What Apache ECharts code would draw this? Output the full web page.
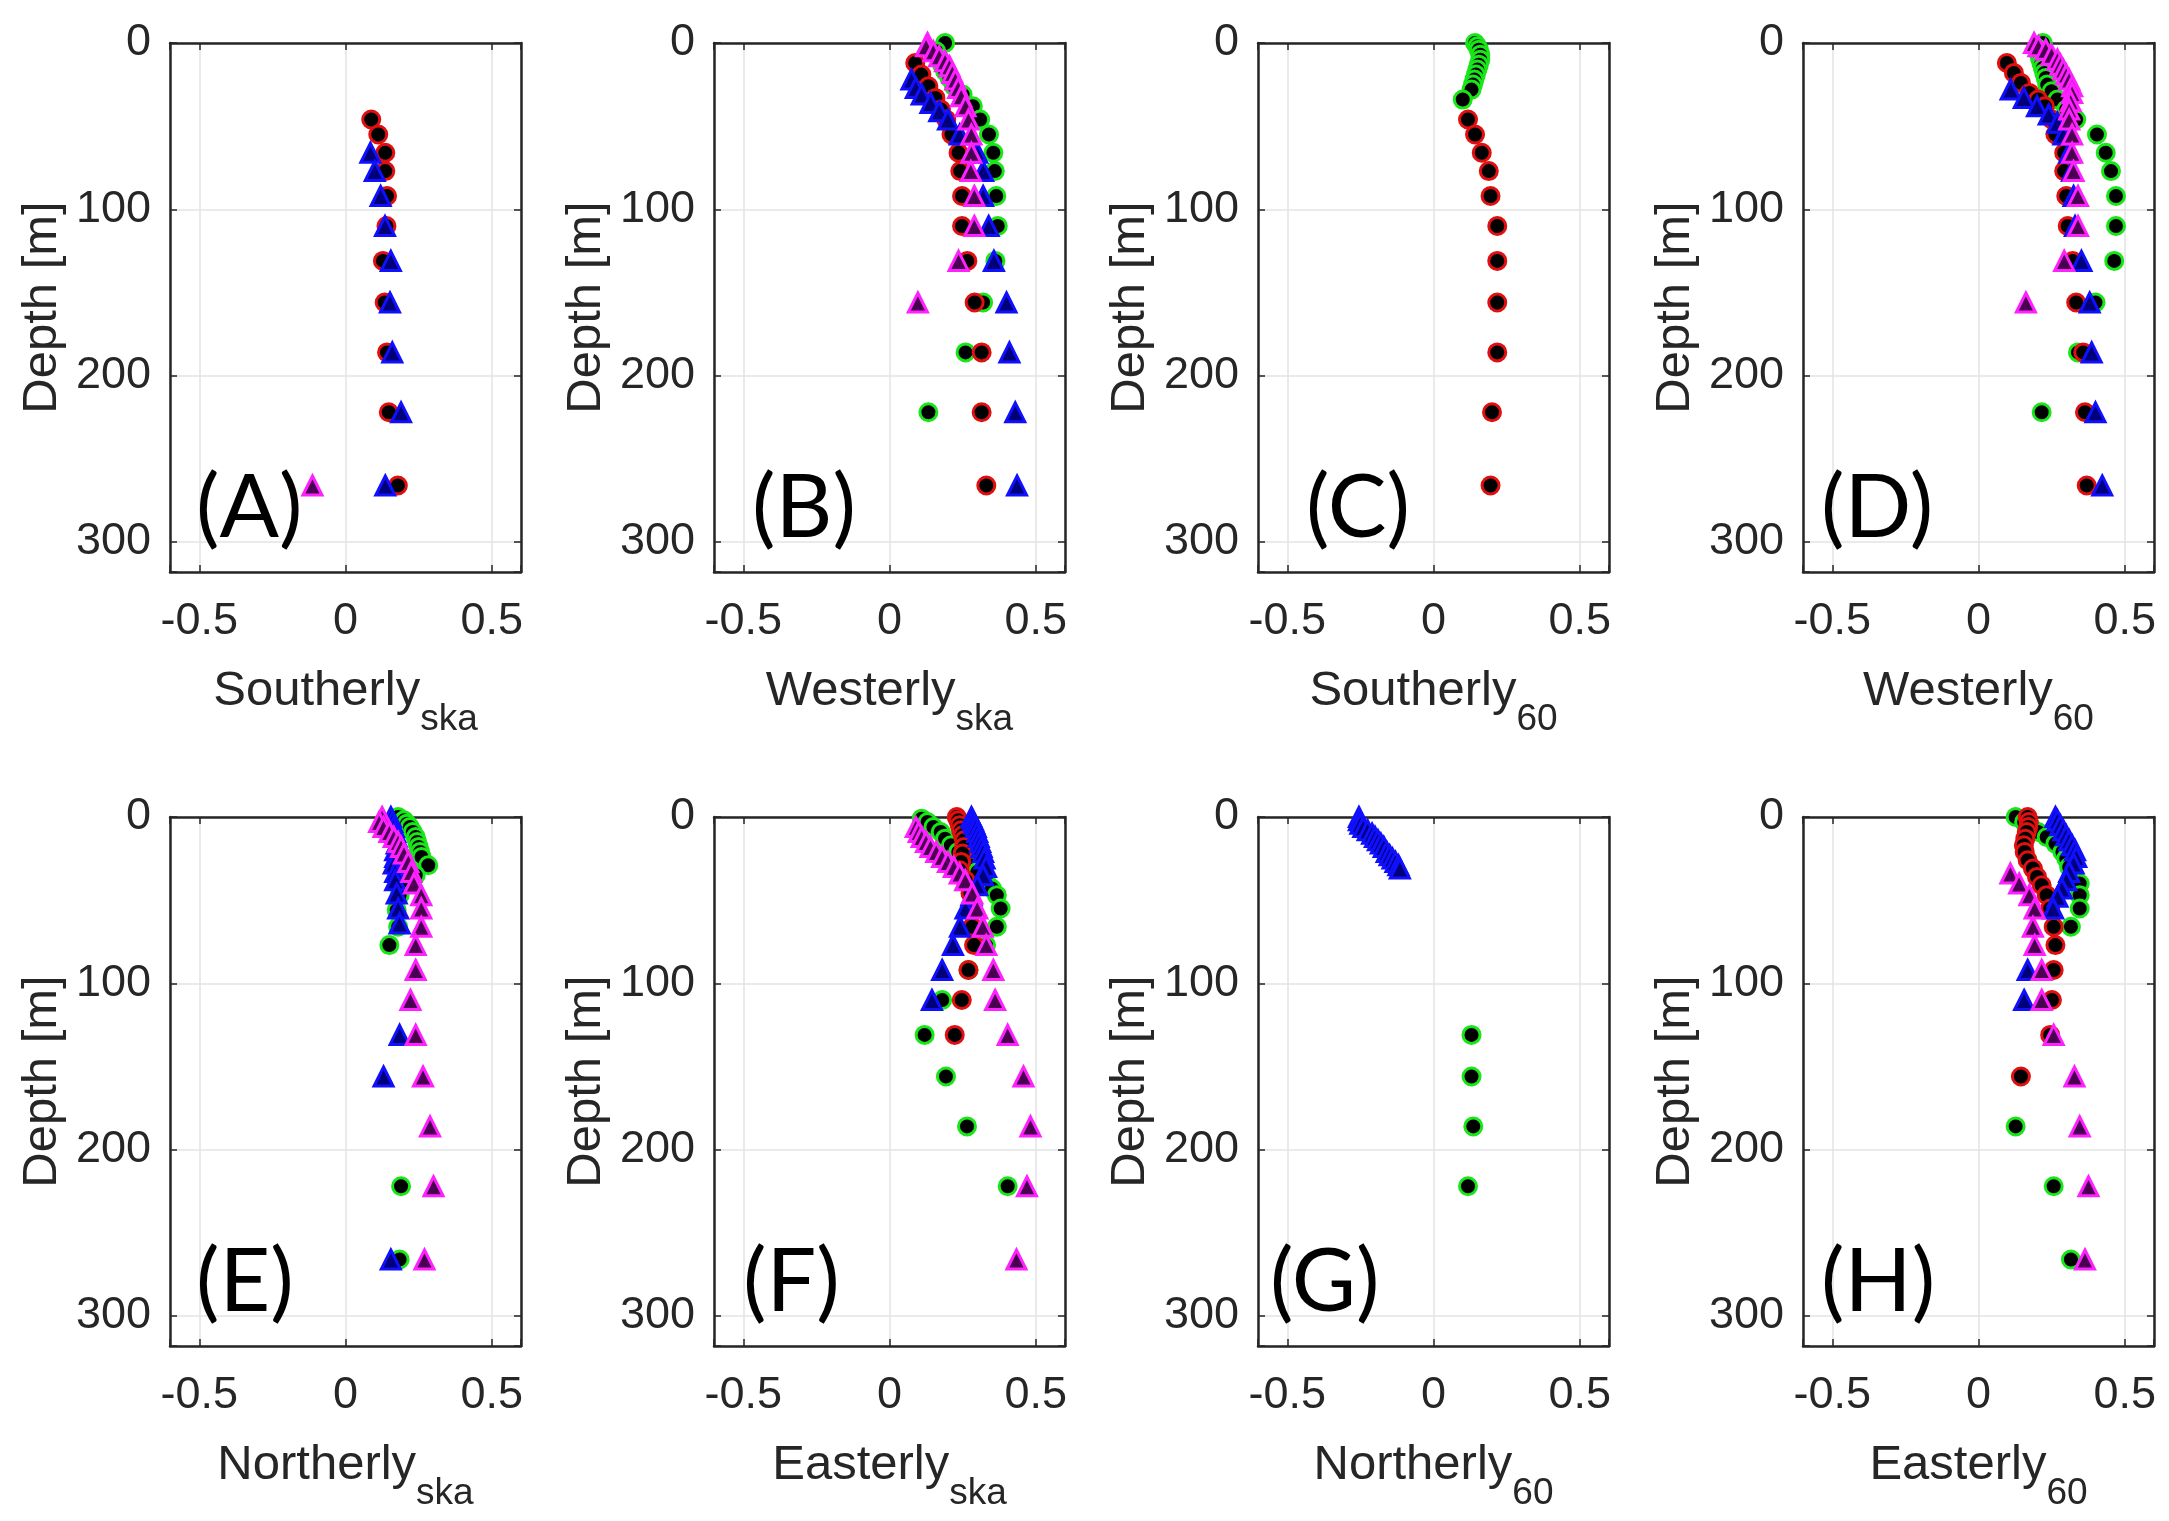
<!DOCTYPE html>
<html><head><meta charset="utf-8">
<script src="https://cdn.jsdelivr.net/npm/echarts@6/dist/echarts.min.js"></script>
<style>html,body{margin:0;padding:0;background:#fff}#c{width:2169px;height:1521px}</style>
</head><body><div id="c"></div>
<script>
// ---------- labels ----------
const panelLetters = ['(A)','(B)','(C)','(D)','(E)','(F)','(G)','(H)'];
const xNameMain = ['Southerly','Westerly','Southerly','Westerly','Northerly','Easterly','Northerly','Easterly'];
const xNameSub  = ['ska','ska','60','60','ska','ska','60','60'];
const yName = 'Depth [m]';
const xTickLabels = [-0.5, 0, 0.5];
const yTickLabels = [0, 100, 200, 300];

// ---------- data: [value, depth] ----------
const A_green = [];
const A_red = [[0.088,46],[0.112,55],[0.136,66],[0.136,77],[0.142,92],[0.140,110],[0.128,131],[0.134,156],[0.142,186],[0.148,222],[0.179,266]];
const A_blue = [[0.085,66],[0.10,77],[0.12,92],[0.135,110],[0.155,131],[0.152,156],[0.16,186],[0.19,222],[0.136,266]];
const A_magenta = [[-0.113,266]];

const B_green = [[0.19,0],[0.16,5],[0.17,9],[0.18,13],[0.19,17],[0.205,21],[0.22,26],[0.25,31],[0.285,38],[0.31,46],[0.34,55],[0.355,66],[0.36,77],[0.365,92],[0.37,110],[0.362,131],[0.32,156],[0.26,186],[0.133,222]];
const B_red = [[0.088,12],[0.109,19],[0.133,26],[0.157,33],[0.176,40],[0.194,46],[0.212,55],[0.236,66],[0.242,77],[0.248,92],[0.248,110],[0.266,131],[0.291,156],[0.315,186],[0.315,222],[0.331,266]];
const B_blue = [[0.075,22],[0.09,27],[0.11,31],[0.14,36],[0.17,41],[0.2,46],[0.24,55],[0.3,66],[0.32,77],[0.32,92],[0.339,110],[0.357,131],[0.40,156],[0.41,186],[0.43,222],[0.436,266]];
const B_magenta = [[0.13,0],[0.125,2],[0.15,5],[0.17,8],[0.19,11],[0.205,14],[0.215,18],[0.225,22],[0.235,27],[0.245,32],[0.26,38],[0.27,46],[0.28,55],[0.28,66],[0.278,77],[0.29,92],[0.29,110],[0.236,131],[0.097,156]];

const C_green = [[0.142,0],[0.15,2],[0.155,4],[0.16,7],[0.16,10],[0.155,13],[0.15,16],[0.145,19],[0.14,22],[0.135,25],[0.13,28],[0.10,34]];
const C_red = [[0.118,46],[0.142,55],[0.165,66],[0.189,77],[0.195,92],[0.218,110],[0.218,131],[0.218,156],[0.218,186],[0.2,222],[0.195,266]];
const C_blue = [];
const C_magenta = [];

const D_green = [[0.22,0],[0.2,3],[0.205,6],[0.21,9],[0.215,12],[0.22,15],[0.225,18],[0.23,21],[0.235,25],[0.25,29],[0.27,34],[0.30,40],[0.334,46],[0.405,55],[0.435,66],[0.453,77],[0.47,92],[0.47,110],[0.464,131],[0.40,156],[0.34,186],[0.216,222]];
const D_red = [[0.097,12],[0.121,18],[0.145,24],[0.174,30],[0.204,34],[0.227,38],[0.251,46],[0.263,55],[0.293,66],[0.293,77],[0.30,92],[0.305,110],[0.322,131],[0.334,156],[0.358,186],[0.364,222],[0.37,266]];
const D_blue = [[0.11,28],[0.155,33],[0.2,38],[0.24,43],[0.27,48],[0.29,55],[0.31,66],[0.32,77],[0.325,92],[0.33,110],[0.352,131],[0.38,156],[0.387,186],[0.40,222],[0.423,266]];
const D_magenta = [[0.19,0],[0.205,2],[0.23,4],[0.25,7],[0.27,10],[0.28,13],[0.29,16],[0.30,19],[0.31,22],[0.32,26],[0.32,30],[0.315,35],[0.31,40],[0.31,46],[0.32,55],[0.32,66],[0.325,77],[0.34,92],[0.34,110],[0.293,131],[0.162,156]];

const E_green = [[0.18,0],[0.20,2],[0.21,4],[0.22,6],[0.23,9],[0.24,12],[0.245,15],[0.25,18],[0.255,21],[0.26,24],[0.283,29],[0.24,35],[0.21,40],[0.185,47],[0.175,56],[0.18,66],[0.15,77],[0.19,222],[0.185,266]];
const E_red = [];
const E_blue = [[0.155,0],[0.16,3],[0.165,6],[0.17,9],[0.175,12],[0.175,16],[0.17,20],[0.17,24],[0.165,28],[0.17,33],[0.17,38],[0.175,46],[0.18,55],[0.185,64],[0.185,131],[0.13,156],[0.155,266]];
const E_magenta = [[0.125,0],[0.115,3],[0.13,6],[0.15,9],[0.165,12],[0.18,15],[0.19,18],[0.20,22],[0.215,27],[0.225,33],[0.234,40],[0.259,47],[0.259,55],[0.259,66],[0.24,77],[0.24,92],[0.222,110],[0.24,131],[0.265,156],[0.289,186],[0.301,222],[0.27,266]];

const F_green = [[0.11,1],[0.13,3],[0.15,6],[0.175,9],[0.19,13],[0.21,17],[0.235,21],[0.26,25],[0.28,29],[0.30,33],[0.33,38],[0.35,43],[0.367,47],[0.38,55],[0.367,66],[0.33,77],[0.27,92],[0.18,110],[0.12,131],[0.193,156],[0.265,186],[0.404,222]];
const F_red = [[0.23,0],[0.235,2],[0.24,5],[0.245,8],[0.25,11],[0.255,14],[0.255,18],[0.25,22],[0.245,27],[0.24,32],[0.26,38],[0.277,46],[0.283,55],[0.283,66],[0.289,77],[0.27,92],[0.247,110],[0.223,131]];
const F_blue = [[0.28,0],[0.285,2],[0.29,4],[0.295,6],[0.30,9],[0.305,12],[0.31,15],[0.315,18],[0.32,21],[0.325,25],[0.33,30],[0.32,35],[0.30,41],[0.28,47],[0.26,55],[0.241,66],[0.217,77],[0.18,92],[0.145,110]];
const F_magenta = [[0.09,6],[0.10,9],[0.11,12],[0.125,15],[0.14,18],[0.16,21],[0.18,24],[0.20,27],[0.22,30],[0.24,34],[0.259,38],[0.283,46],[0.30,55],[0.319,66],[0.331,77],[0.355,92],[0.361,110],[0.404,131],[0.458,156],[0.482,186],[0.47,222],[0.434,266]];

const G_green = [[0.13,131],[0.13,156],[0.136,186],[0.118,222]];
const G_red = [];
const G_blue = [[-0.255,0],[-0.255,2],[-0.25,4],[-0.24,6],[-0.225,8],[-0.21,10],[-0.20,12],[-0.19,14],[-0.18,16],[-0.17,18],[-0.16,21],[-0.15,23],[-0.14,25],[-0.13,27],[-0.12,29],[-0.115,31]];
const G_magenta = [];

const H_green = [[0.127,0],[0.156,3],[0.18,6],[0.204,9],[0.233,12],[0.263,16],[0.287,21],[0.30,25],[0.31,30],[0.325,35],[0.346,40],[0.346,47],[0.346,55],[0.316,66],[0.127,186],[0.257,222],[0.316,266]];
const H_red = [[0.168,0],[0.172,3],[0.17,6],[0.165,9],[0.16,13],[0.155,17],[0.158,21],[0.168,26],[0.186,31],[0.20,36],[0.216,41],[0.233,47],[0.245,55],[0.257,66],[0.263,77],[0.257,92],[0.251,110],[0.245,131],[0.145,156]];
const H_blue = [[0.263,0],[0.27,2],[0.28,5],[0.29,8],[0.30,11],[0.31,14],[0.32,17],[0.33,20],[0.334,24],[0.325,28],[0.31,33],[0.30,38],[0.285,43],[0.27,48],[0.255,55],[0.168,92],[0.156,110]];
const H_magenta = [[0.109,34],[0.139,40],[0.174,47],[0.192,55],[0.186,66],[0.192,77],[0.216,92],[0.216,110],[0.257,131],[0.328,156],[0.346,186],[0.376,222],[0.364,266]];

const panels = [
  {green:A_green, red:A_red, blue:A_blue, magenta:A_magenta},
  {green:B_green, red:B_red, blue:B_blue, magenta:B_magenta},
  {green:C_green, red:C_red, blue:C_blue, magenta:C_magenta},
  {green:D_green, red:D_red, blue:D_blue, magenta:D_magenta},
  {green:E_green, red:E_red, blue:E_blue, magenta:E_magenta},
  {green:F_green, red:F_red, blue:F_blue, magenta:F_magenta},
  {green:G_green, red:G_red, blue:G_blue, magenta:G_magenta},
  {green:H_green, red:H_red, blue:H_blue, magenta:H_magenta}
];

// ---------- layout / style ----------
const lefts = [170, 714, 1258, 1803];
const tops = [43, 817];
const W = 351, H = 529;
const letterOffsets = [26, 38, 48, 18, 26, 29, 12, 18];
const ink = '#262626';
const font = '"Liberation Sans", Arial, Helvetica, sans-serif';
const markerStyles = {
  green:   {symbol:'circle',   size:17, fill:'#000000', edge:'#19e619'},
  red:     {symbol:'circle',   size:17, fill:'#000000', edge:'#e01010'},
  blue:    {symbol:'triangle', size:19, fill:'#000078', edge:'#1010ff'},
  magenta: {symbol:'triangle', size:19, fill:'#4a0050', edge:'#ff20ff'}
};
const order = ['green','red','blue','magenta'];

const grid = [], xAxis = [], yAxis = [], series = [], title = [];
const xFmt = v => { const r = Math.round(v*10)/10; return xTickLabels.indexOf(r) >= 0 ? String(r) : ''; };
const yFmt = v => yTickLabels.indexOf(v) >= 0 ? String(v) : '';
const boxLine = {show: true, onZero: false, lineStyle: {color: ink, width: 2.5}};
const innerTick = {show: true, inside: true, length: 7, lineStyle: {color: ink, width: 1.5}};

for (let i = 0; i < 8; i++) {
  const col = i % 4, row = Math.floor(i / 4);
  grid.push({left: lefts[col], top: tops[row], width: W, height: H, show: false, containLabel: false});
  xAxis.push({gridIndex: i, type: 'value', min: -0.6, max: 0.6, splitNumber: 2,
    position: 'bottom',
    axisLine: boxLine,
    axisTick: innerTick,
    axisLabel: {formatter: xFmt, margin: 27, fontSize: 45, fontFamily: font, color: ink},
    splitLine: {show: true, lineStyle: {color: '#e3e3e3', width: 1.5}},
    name: '{a|' + xNameMain[i] + '}{b|' + xNameSub[i] + '}',
    nameLocation: 'middle', nameGap: 64,
    nameTextStyle: {color: ink, fontFamily: font,
      rich: {a: {fontSize: 49, lineHeight: 56, fontFamily: font, color: ink},
             b: {fontSize: 37, lineHeight: 38, padding: [56, 0, 0, 0], fontFamily: font, color: ink}}}
  });
  yAxis.push({gridIndex: i, type: 'value', inverse: true, min: 0, max: 318, interval: 100,
    position: 'left',
    axisLine: boxLine,
    axisTick: innerTick,
    axisLabel: {formatter: yFmt, margin: 19, fontSize: 45, fontFamily: font, color: ink},
    splitLine: {show: true, lineStyle: {color: '#e3e3e3', width: 1.5}},
    name: yName, nameLocation: 'middle', nameRotate: 90, nameGap: 104,
    nameTextStyle: {fontSize: 49, lineHeight: 48, fontFamily: font, color: ink}
  });
  title.push({text: panelLetters[i], left: lefts[col] + letterOffsets[i], top: tops[row] + H - 63 - 46,
    padding: 0, textStyle: {fontFamily: 'Lato, "Noto Sans", sans-serif', fontSize: 88, lineHeight: 92, fontWeight: 'normal', color: '#000'}});
}
// mirror axes (top / right) closing the box, with inner ticks
for (let i = 0; i < 8; i++) {
  xAxis.push({gridIndex: i, type: 'value', min: -0.6, max: 0.6, splitNumber: 2, position: 'top',
    axisLine: boxLine, axisLabel: {show: false}, splitLine: {show: false}, axisTick: innerTick});
  yAxis.push({gridIndex: i, type: 'value', inverse: true, min: 0, max: 318, interval: 100, position: 'right',
    axisLine: boxLine, axisLabel: {show: false}, splitLine: {show: false}, axisTick: innerTick});
}
for (let i = 0; i < 8; i++) {
  order.forEach(k => {
    const d = panels[i][k];
    if (!d.length) return;
    const s = markerStyles[k];
    series.push({type: 'scatter', xAxisIndex: i, yAxisIndex: i, data: d, symbol: s.symbol, symbolSize: s.size,
      clip: false, silent: true, z: 3,
      itemStyle: {color: s.fill, borderColor: s.edge, borderWidth: 3, opacity: 1}});
  });
}

const chart = echarts.init(document.getElementById('c'), null, {renderer: 'canvas'});
chart.setOption({animation: false, backgroundColor: '#ffffff', title, grid, xAxis, yAxis, series});
</script>
</body></html>
